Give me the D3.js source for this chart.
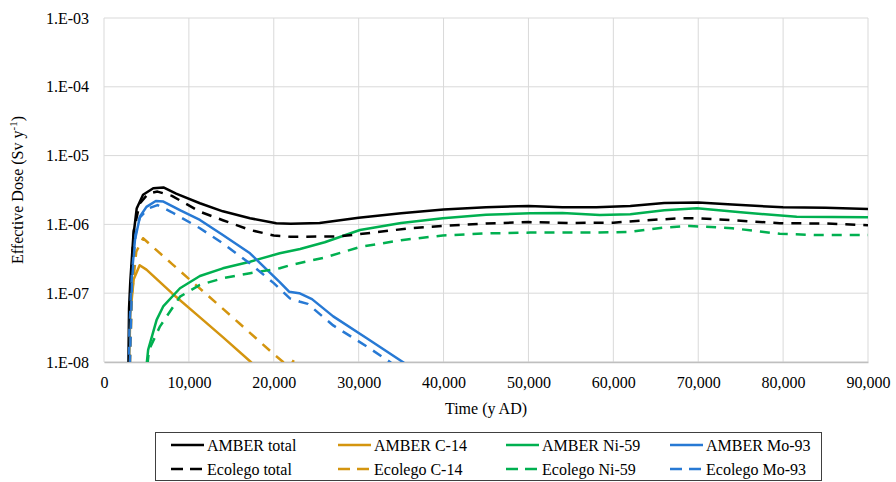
<!DOCTYPE html>
<html>
<head>
<meta charset="utf-8">
<script src="https://cdn.jsdelivr.net/npm/d3@7"></script>
<style>
  body { margin: 0; background: #fff; }
  text { font-family: "Liberation Serif", "Times New Roman", serif; fill: #000; }
</style>
</head>
<body>
<script>
// data (time in years AD, dose in Sv/y)
const amberTotalT = [2850, 2950, 3100, 3450, 3850, 4600, 5800, 7000, 8500, 11300, 14000, 17200, 20300, 22000, 25400, 30000, 35000, 40000, 45000, 50000, 54000, 58000, 62000, 66000, 70000, 74000, 80000, 85000, 90000];
const amberTotalV = [5e-9, 6e-8, 1.5e-7, 6.6e-7, 1.7e-6, 2.7e-6, 3.35e-6, 3.45e-6, 2.8e-6, 2.03e-6, 1.55e-6, 1.23e-6, 1.04e-6, 1.02e-6, 1.05e-6, 1.25e-6, 1.45e-6, 1.65e-6, 1.78e-6, 1.85e-6, 1.77e-6, 1.77e-6, 1.85e-6, 2.05e-6, 2.08e-6, 1.95e-6, 1.77e-6, 1.75e-6, 1.67e-6];

const ecoTotalT = [2900, 3100, 3500, 4200, 5200, 6300, 8000, 11300, 14000, 17200, 20000, 22000, 27800, 32500, 36000, 40000, 45000, 50000, 55000, 60000, 64000, 68000, 70000, 74000, 79600, 85000, 90000];
const ecoTotalV = [5e-9, 1e-7, 8e-7, 2e-6, 2.8e-6, 3.0e-6, 2.6e-6, 1.53e-6, 1.15e-6, 8.3e-7, 6.9e-7, 6.6e-7, 6.7e-7, 7.8e-7, 8.8e-7, 9.5e-7, 1.03e-6, 1.08e-6, 1.05e-6, 1.06e-6, 1.15e-6, 1.23e-6, 1.23e-6, 1.15e-6, 1.04e-6, 1.03e-6, 9.7e-7];

const amberC14T = [2900, 3100, 3500, 4200, 5000, 8000, 11000, 14000, 17300, 19000];
const amberC14V = [5e-9, 5e-8, 1.6e-7, 2.55e-7, 2.2e-7, 1.0e-7, 4.8e-8, 2.3e-8, 1e-8, 6e-9];

const ecoC14T = [3000, 3300, 3800, 4600, 8000, 12000, 16000, 20000, 21100, 21800, 22500, 23000, 23500];
const ecoC14V = [5e-9, 1e-7, 4e-7, 6.3e-7, 2.67e-7, 9.8e-8, 3.6e-8, 1.3e-8, 1e-8, 8e-9, 1.15e-8, 8e-9, 5e-9];

const amberNi59T = [4800, 5200, 6200, 7000, 8950, 11300, 14000, 17200, 20700, 23100, 26000, 30150, 35000, 39900, 45000, 50200, 54000, 58400, 62000, 66000, 69850, 75000, 81600, 90000];
const amberNi59V = [5e-9, 1.5e-8, 4.1e-8, 6.5e-8, 1.18e-7, 1.78e-7, 2.3e-7, 2.87e-7, 3.8e-7, 4.4e-7, 5.5e-7, 8.3e-7, 1.05e-6, 1.23e-6, 1.38e-6, 1.45e-6, 1.47e-6, 1.37e-6, 1.4e-6, 1.6e-6, 1.71e-6, 1.5e-6, 1.29e-6, 1.27e-6];

const ecoNi59T = [4900, 5300, 6600, 8950, 11300, 14000, 17200, 20700, 22000, 26000, 30150, 35000, 39900, 45000, 50200, 58000, 62000, 66000, 69000, 74000, 79600, 84000, 90000];
const ecoNi59V = [5e-9, 1.5e-8, 3.3e-8, 8.9e-8, 1.32e-7, 1.65e-7, 1.95e-7, 2.3e-7, 2.57e-7, 3.3e-7, 4.7e-7, 5.9e-7, 6.9e-7, 7.4e-7, 7.6e-7, 7.6e-7, 7.8e-7, 9e-7, 9.5e-7, 8.8e-7, 7.3e-7, 7.0e-7, 7.0e-7];

const amberMo93T = [2900, 3000, 3300, 3650, 4240, 5000, 6100, 7000, 9000, 11300, 14000, 17200, 20700, 21800, 23000, 24500, 27000, 31000, 35200, 37000];
const amberMo93V = [5e-9, 3e-8, 2e-7, 6e-7, 1.3e-6, 1.8e-6, 2.19e-6, 2.15e-6, 1.6e-6, 1.16e-6, 7e-7, 3.8e-7, 1.45e-7, 1.05e-7, 1.0e-7, 8.2e-8, 4.6e-8, 2.2e-8, 1e-8, 7e-9];

const ecoMo93T = [3000, 3300, 3700, 4200, 5200, 6300, 8000, 11300, 14000, 17200, 20000, 21900, 23100, 24000, 27000, 31000, 33700, 35000];
const ecoMo93V = [5e-9, 1.5e-7, 7e-7, 1.25e-6, 1.7e-6, 1.91e-6, 1.5e-6, 8.8e-7, 5.3e-7, 2.7e-7, 1.4e-7, 8.4e-8, 7.5e-8, 7.0e-8, 3.4e-8, 1.67e-8, 1e-8, 7e-9];

const xTicks = [0, 10000, 20000, 30000, 40000, 50000, 60000, 70000, 80000, 90000];
const yTicks = [1e-8, 1e-7, 1e-6, 1e-5, 1e-4, 1e-3];
const yTickLabels = ['1.E-08', '1.E-07', '1.E-06', '1.E-05', '1.E-04', '1.E-03'];

const seriesNames = ['AMBER total', 'AMBER C-14', 'AMBER Ni-59', 'AMBER Mo-93',
                     'Ecolego total', 'Ecolego C-14', 'Ecolego Ni-59', 'Ecolego Mo-93'];

// set variables
const w = 896, h = 482;
const m = {left: 104, right: 868, top: 18, bottom: 362};

const colors = {total: '#000000', c14: '#d4950f', ni59: '#00b050', mo93: '#2779d4'};

const series = [
    {name: seriesNames[0], t: amberTotalT, v: amberTotalV, color: colors.total, dash: null},
    {name: seriesNames[1], t: amberC14T, v: amberC14V, color: colors.c14, dash: null},
    {name: seriesNames[2], t: amberNi59T, v: amberNi59V, color: colors.ni59, dash: null},
    {name: seriesNames[3], t: amberMo93T, v: amberMo93V, color: colors.mo93, dash: null},
    {name: seriesNames[4], t: ecoTotalT, v: ecoTotalV, color: colors.total, dash: '10,8'},
    {name: seriesNames[5], t: ecoC14T, v: ecoC14V, color: colors.c14, dash: '10,8'},
    {name: seriesNames[6], t: ecoNi59T, v: ecoNi59V, color: colors.ni59, dash: '10,8'},
    {name: seriesNames[7], t: ecoMo93T, v: ecoMo93V, color: colors.mo93, dash: '10,8'}
];

const xScale = d3.scaleLinear().domain([0, 90000]).range([m.left, m.right]);
const yScale = d3.scaleLog().domain([1e-8, 1e-3]).range([m.bottom, m.top]);

const svg = d3.select('body').append('svg')
    .attr('width', w)
    .attr('height', h);

svg.append('defs').append('clipPath').attr('id', 'plotclip')
    .append('rect')
    .attr('x', m.left).attr('y', m.top)
    .attr('width', m.right - m.left).attr('height', m.bottom - m.top);

// gridlines
const grid = svg.append('g');
grid.selectAll('.hg').data(yTicks).enter().append('line')
    .attr('x1', m.left).attr('x2', m.right)
    .attr('y1', d => yScale(d)).attr('y2', d => yScale(d))
    .attr('stroke', '#d9d9d9').attr('stroke-width', 1);
grid.selectAll('.vg').data(xTicks).enter().append('line')
    .attr('x1', d => xScale(d)).attr('x2', d => xScale(d))
    .attr('y1', m.top).attr('y2', m.bottom)
    .attr('stroke', '#d9d9d9').attr('stroke-width', 1);

// axes
const xAxis = d3.axisBottom(xScale).tickValues(xTicks).tickSize(0).tickPadding(15)
    .tickFormat(d3.format(','));
const yAxis = d3.axisLeft(yScale).tickValues(yTicks).tickSize(0).tickPadding(15)
    .tickFormat((d, i) => yTickLabels[i]);

const gx = svg.append('g').attr('transform', `translate(0,${m.bottom})`).call(xAxis);
gx.select('.domain').attr('stroke', '#bfbfbf').attr('stroke-width', 1.5);
gx.selectAll('text').style('font-size', '16px').style('font-family', '"Liberation Serif", serif');

const gy = svg.append('g').attr('transform', `translate(${m.left},0)`).call(yAxis);
gy.select('.domain').remove();
gy.selectAll('text').style('font-size', '16px').style('font-family', '"Liberation Serif", serif');

// lines
const line = d3.line()
    .x(d => xScale(d[0]))
    .y(d => yScale(d[1]));

const plot = svg.append('g').attr('clip-path', 'url(#plotclip)');
plot.selectAll('path').data(series).enter().append('path')
    .attr('d', s => line(d3.zip(s.t, s.v)))
    .attr('fill', 'none')
    .attr('stroke', s => s.color)
    .attr('stroke-width', 2.5)
    .attr('stroke-linejoin', 'round')
    .attr('stroke-dasharray', s => s.dash);

// axis titles
svg.append('text')
    .attr('x', (m.left + m.right) / 2)
    .attr('y', 414)
    .attr('text-anchor', 'middle')
    .style('font-size', '16px')
    .text('Time (y AD)');

const yTitle = svg.append('text')
    .attr('transform', `translate(23,${(m.top + m.bottom) / 2}) rotate(-90)`)
    .attr('text-anchor', 'middle')
    .style('font-size', '16px');
yTitle.append('tspan').text('Effective Dose (Sv y');
yTitle.append('tspan').attr('dy', -6).style('font-size', '11px').text('-1');
yTitle.append('tspan').attr('dy', 6).text(')');

// legend
const legend = svg.append('g');
legend.append('rect')
    .attr('x', 155.5).attr('y', 432.5)
    .attr('width', 666).attr('height', 48)
    .attr('fill', 'none').attr('stroke', '#404040').attr('stroke-width', 1);

const colX = [171, 338, 506, 670];
const rowY = [445, 469];
const items = legend.selectAll('.item').data(series).enter().append('g')
    .attr('transform', (d, i) => `translate(${colX[i % 4]},${rowY[Math.floor(i / 4)]})`);
items.append('line')
    .attr('x1', 0).attr('x2', 33)
    .attr('stroke', d => d.color).attr('stroke-width', 2.5)
    .attr('stroke-dasharray', d => d.dash ? '12,7' : null);
items.append('text')
    .attr('x', 36).attr('y', 5.5)
    .style('font-size', '16px')
    .text(d => d.name);
</script>
</body>
</html>
